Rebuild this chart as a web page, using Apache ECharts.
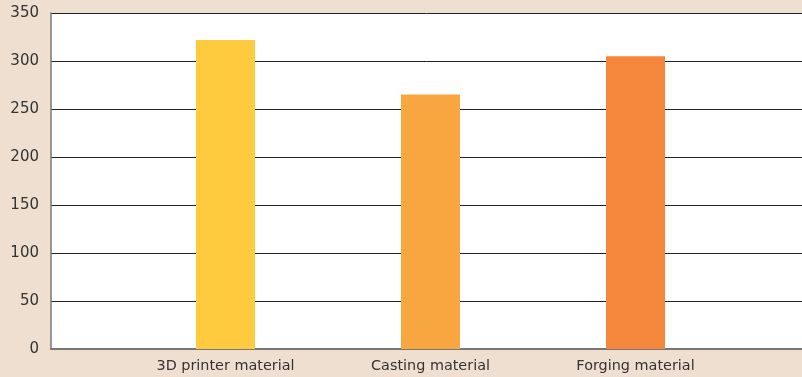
<!DOCTYPE html>
<html>
<head>
<meta charset="utf-8">
<style>
  html, body { margin: 0; padding: 0; background: #EFDFD1; }
  #chart { width: 802px; height: 377px; }
</style>
<script src="https://cdn.jsdelivr.net/npm/echarts@6/dist/echarts.min.js"></script>
</head>
<body>
<div id="chart"></div>
<script>
// Material comparison values
const categories = ['3D printer material', 'Casting material', 'Forging material'];
const values = [322, 265, 305];
const barColors = ['#FECB3F', '#F8A740', '#F5873D'];
const yTicks = { min: 0, max: 350, interval: 50 };

const FONT = '"DejaVu Sans", sans-serif';
const chart = echarts.init(document.getElementById('chart'), null, { renderer: 'canvas' });

chart.setOption({
  backgroundColor: '#EFDFD1',
  animation: false,
  grid: [
    // frame: white plot area, horizontal rules, y labels
    { left: 51, right: 0, top: 13, bottom: 28, show: true, backgroundColor: '#FFFFFF', borderWidth: 0 },
    // bars and category labels
    { left: 123, right: 64, top: 13, bottom: 28 }
  ],
  xAxis: [
    {
      gridIndex: 0, type: 'value', min: 0, max: 1,
      axisLine: { show: true, lineStyle: { color: '#777777', width: 2 } },
      axisTick: { show: false }, axisLabel: { show: false }, splitLine: { show: false }
    },
    {
      gridIndex: 1, type: 'category', data: categories,
      axisLine: { show: false }, axisTick: { show: false },
      axisLabel: { color: '#333333', fontSize: 14.4, fontFamily: FONT, margin: 10 }
    }
  ],
  yAxis: [
    {
      gridIndex: 0, type: 'value', min: yTicks.min, max: yTicks.max, interval: yTicks.interval,
      axisLine: { show: true, lineStyle: { color: '#777777', width: 1.5 } },
      axisTick: { show: false },
      axisLabel: { color: '#333333', fontSize: 15, fontFamily: FONT, margin: 12, padding: [3, 0, 0, 0] },
      splitLine: { show: true, lineStyle: { color: '#222222', width: 1 } }
    },
    {
      gridIndex: 1, type: 'value', min: yTicks.min, max: yTicks.max, interval: yTicks.interval,
      show: false, splitLine: { show: false }
    }
  ],
  series: [{
    type: 'bar',
    xAxisIndex: 1, yAxisIndex: 1,
    barWidth: 59,
    data: values.map((v, i) => ({ value: v, itemStyle: { color: barColors[i] } }))
  }]
});
</script>
</body>
</html>
